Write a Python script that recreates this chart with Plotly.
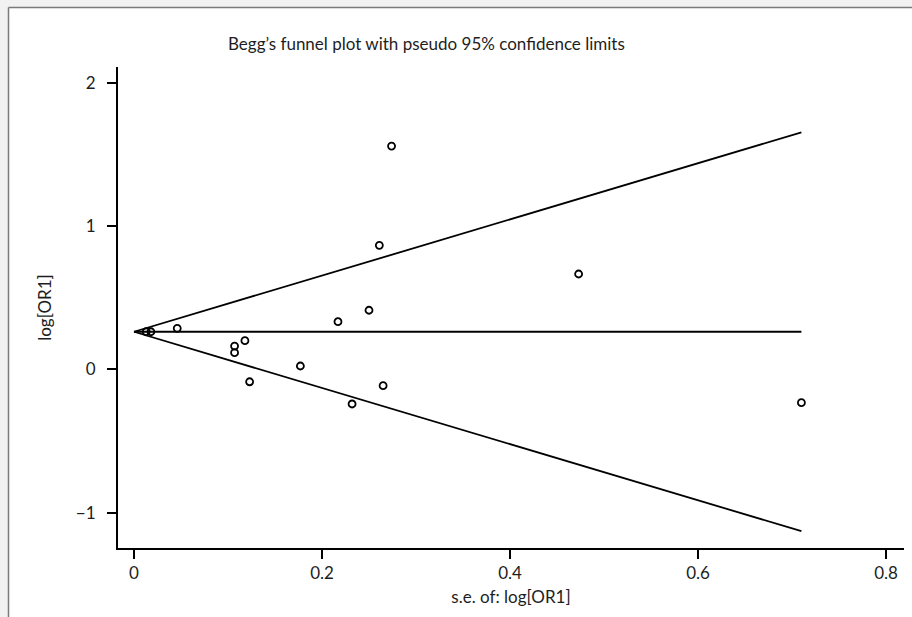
import numpy as np
import plotly.graph_objects as go

# ---- data ----
se_values = [0.274, 0.261, 0.250, 0.217, 0.265, 0.232, 0.473, 0.710,
             0.177, 0.118, 0.107, 0.107, 0.123, 0.046, 0.013, 0.018]
log_or_values = [1.558, 0.865, 0.412, 0.332, -0.114, -0.242, 0.665, -0.233,
                 0.023, 0.200, 0.162, 0.116, -0.087, 0.286, 0.262, 0.262]
theta = 0.262           # pooled estimate (horizontal line)
z_95 = 1.96
x_tickvals = [0, 0.2, 0.4, 0.6, 0.8]
x_ticktext = ["0", "0.2", "0.4", "0.6", "0.8"]
y_tickvals = [-1, 0, 1, 2]
y_ticktext = ["\u22121", "0", "1", "2"]

title_text = "Begg\u2019s funnel plot with pseudo 95% confidence limits"
x_title = "s.e. of: log[OR1]"
y_title = "log[OR1]"

se_max = max(se_values)
line_se = [0.0, se_max]
upper = [theta + z_95 * s for s in line_se]
lower = [theta - z_95 * s for s in line_se]
center = [theta, theta]

FONT = "Lato, 'Open Sans', sans-serif"
FS = 17
TXT = "#1e1e1e"

fig = go.Figure()
for yy in (upper, center, lower):
    fig.add_trace(go.Scatter(x=line_se, y=yy, mode="lines",
                             line=dict(color="black", width=1.8),
                             hoverinfo="skip", showlegend=False))
fig.add_trace(go.Scatter(x=se_values, y=log_or_values, mode="markers",
                         marker=dict(symbol="circle-open", size=7,
                                     color="black", line=dict(width=1.8)),
                         showlegend=False))

W, H = 912, 617
L, R, T, B = 118, 8, 67, 69
pw, ph = W - L - R, H - T - B

def px_x(p):
    return (p - L) / pw

def px_y(p):
    return (H - B - p) / ph

fig.update_layout(
    width=W, height=H,
    margin=dict(l=L, r=R, t=T, b=B, pad=0),
    paper_bgcolor="#f2f2f2",
    plot_bgcolor="white",
    font=dict(family=FONT, size=FS, color=TXT),
    shapes=[
        dict(type="rect", xref="paper", yref="paper",
             x0=px_x(9), x1=px_x(930), y0=px_y(8), y1=px_y(640),
             fillcolor="white", line=dict(width=0), layer="below"),
        dict(type="line", xref="paper", yref="paper",
             x0=px_x(8.5), x1=px_x(930), y0=px_y(7.5), y1=px_y(7.5),
             line=dict(color="#7a7a7a", width=1.5), layer="below"),
        dict(type="line", xref="paper", yref="paper",
             x0=px_x(8.5), x1=px_x(8.5), y0=px_y(7.5), y1=px_y(640),
             line=dict(color="#7a7a7a", width=1.5), layer="below"),
    ],
    annotations=[dict(text=title_text, xref="paper", yref="paper",
                      x=px_x(426), y=px_y(44), xanchor="center", yanchor="middle",
                      showarrow=False, font=dict(family=FONT, size=FS, color=TXT))],
    xaxis=dict(range=[(L - 134) / 940, (L + pw - 134) / 940],
               tickvals=x_tickvals, ticktext=x_ticktext,
               showline=True, linecolor="black", linewidth=2,
               ticks="outside", ticklen=9, tickwidth=1.5, tickcolor="black",
               ticklabelstandoff=0,
               showgrid=False, zeroline=False,
               title=dict(text=x_title, standoff=9,
                          font=dict(family=FONT, size=FS, color=TXT))),
    yaxis=dict(range=[(369.3 - (H - B)) / 143.3, (369.3 - T) / 143.3],
               tickvals=y_tickvals, ticktext=y_ticktext,
               showline=True, linecolor="black", linewidth=2,
               ticks="outside", ticklen=9, tickwidth=1.5, tickcolor="black",
               ticklabelstandoff=8,
               showgrid=False, zeroline=False,
               title=dict(text=y_title, standoff=20,
                          font=dict(family=FONT, size=FS, color=TXT))),
)

fig.write_html("out.html")
